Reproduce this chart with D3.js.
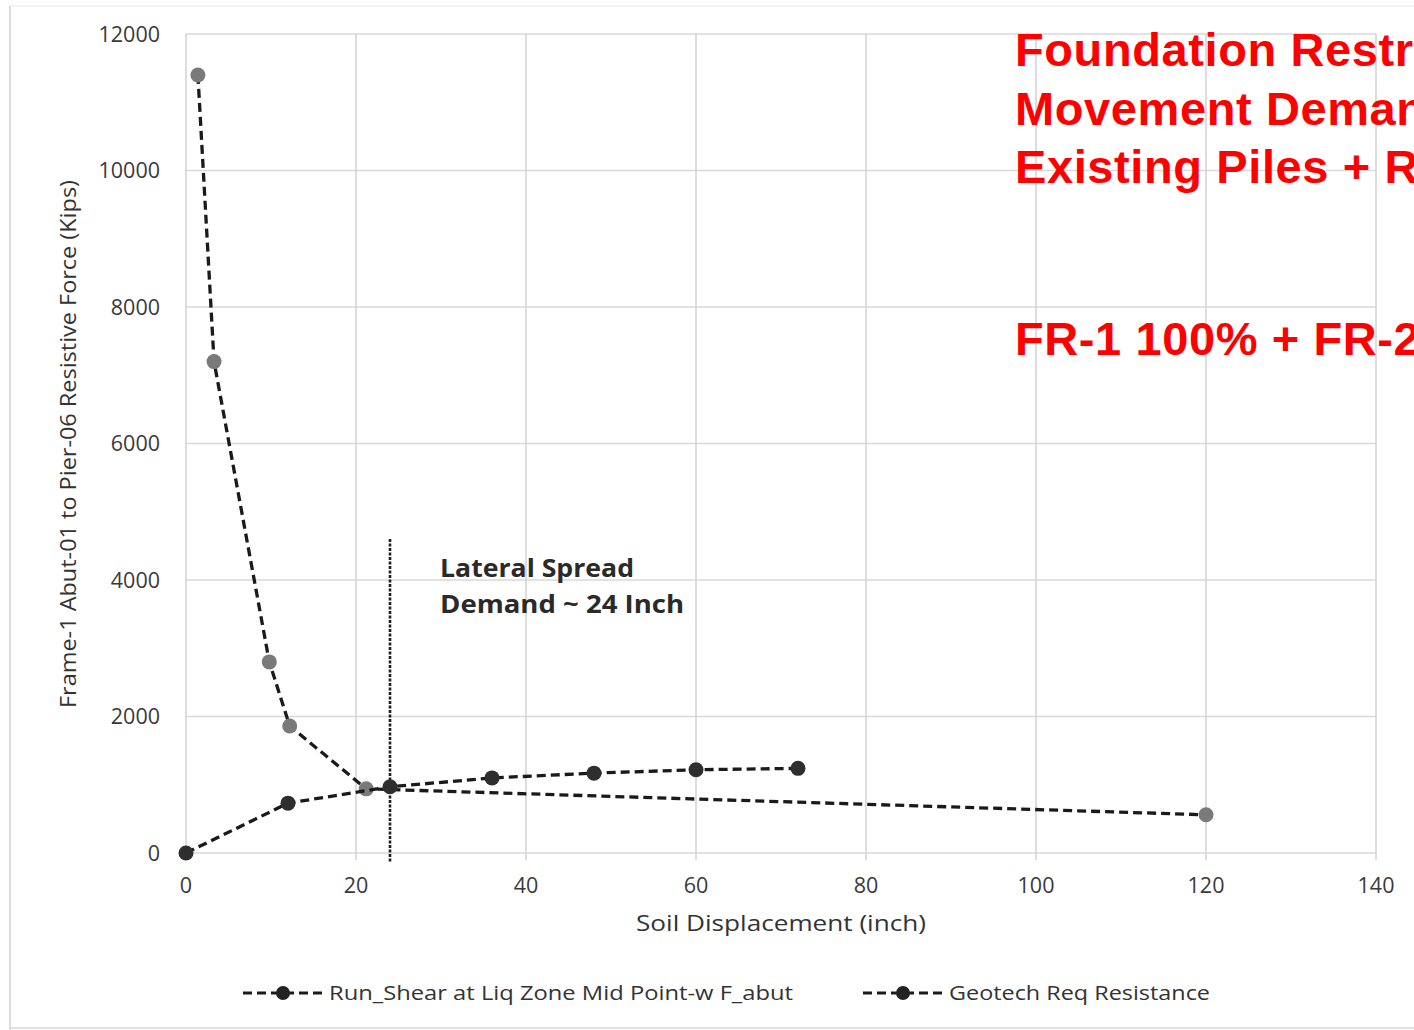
<!DOCTYPE html>
<html>
<head>
<meta charset="utf-8">
<script src="https://cdn.jsdelivr.net/npm/d3@7"></script>
<style>
  html, body { margin: 0; padding: 0; background: #fff; }
  svg { display: block; }
</style>
</head>
<body>
<svg id="chart" width="1414" height="1030"></svg>
<script>
// Soil displacement (inch) vs. resistive force (kips)
const runShearX = [0, 12, 24, 36, 48, 60, 72];
const runShearY = [0, 730, 970, 1100, 1170, 1220, 1240];

const geotechX = [1.4, 3.3, 9.8, 12.2, 21.2, 120];
const geotechY = [11400, 7200, 2800, 1860, 940, 560];

const xTicks = [0, 20, 40, 60, 80, 100, 120, 140];
const yTicks = [0, 2000, 4000, 6000, 8000, 10000, 12000];

const seriesNames = ["Run_Shear at Liq Zone Mid Point-w F_abut", "Geotech Req Resistance"];

// lateral spread demand marker line
const demandX = 24;
const demandSpan = [-130, 4600];

const noteLines = ["Lateral Spread", "Demand ~ 24 Inch"];
const titleLines = ["Foundation Restraint", "Movement Demand", "Existing Piles + Retrofit"];
const subtitle = "FR-1 100% + FR-2 100%";

const svg = d3.select("#chart");

const x = d3.scaleLinear().domain([0, 140]).range([186, 1376]);
const y = d3.scaleLinear().domain([0, 12000]).range([853, 34]);

// outer frame
svg.append("line").attr("x1", 10).attr("x2", 10).attr("y1", 6).attr("y2", 1030)
  .attr("stroke", "#cfcfcf").attr("stroke-width", 1.5);
svg.append("line").attr("x1", 10).attr("x2", 1414).attr("y1", 6).attr("y2", 6)
  .attr("stroke", "#e6e6e6").attr("stroke-width", 1.2);
svg.append("line").attr("x1", 10).attr("x2", 1414).attr("y1", 1028).attr("y2", 1028)
  .attr("stroke", "#d6d6d6").attr("stroke-width", 1.5);

// gridlines
const grid = svg.append("g");
grid.selectAll("line.h").data(yTicks).join("line")
  .attr("x1", x(0)).attr("x2", x(140))
  .attr("y1", d => y(d)).attr("y2", d => y(d))
  .attr("stroke", "#d9d9d9").attr("stroke-width", 1.5);
grid.selectAll("line.v").data(xTicks).join("line")
  .attr("x1", d => x(d)).attr("x2", d => x(d))
  .attr("y1", y(12000)).attr("y2", y(0) + 7)
  .attr("stroke", "#d2d2d2").attr("stroke-width", 1.5);

// tick labels
const tickFont = "'Open Sans', 'DejaVu Sans', sans-serif";
svg.append("g").selectAll("text").data(yTicks).join("text")
  .attr("x", 160).attr("y", d => y(d) + 7.5)
  .attr("text-anchor", "end")
  .attr("font-family", tickFont).attr("font-size", 21.5)
  .attr("fill", "#3a3a3a")
  .text(d => d);
svg.append("g").selectAll("text").data(xTicks).join("text")
  .attr("x", d => x(d)).attr("y", 893)
  .attr("text-anchor", "middle")
  .attr("font-family", tickFont).attr("font-size", 21.5)
  .attr("fill", "#3a3a3a")
  .text(d => d);

// axis titles
svg.append("text")
  .attr("x", 781).attr("y", 931)
  .attr("text-anchor", "middle")
  .attr("font-family", tickFont).attr("font-size", 22)
  .attr("fill", "#333")
  .attr("textLength", 290).attr("lengthAdjust", "spacingAndGlyphs")
  .text("Soil Displacement (inch)");
svg.append("text")
  .attr("transform", "translate(76,444) rotate(-90)")
  .attr("text-anchor", "middle")
  .attr("font-family", tickFont).attr("font-size", 22)
  .attr("fill", "#333")
  .attr("textLength", 528).attr("lengthAdjust", "spacingAndGlyphs")
  .text("Frame-1 Abut-01 to Pier-06 Resistive Force (Kips)");

// demand line at 24 inch
svg.append("line")
  .attr("x1", x(demandX)).attr("x2", x(demandX))
  .attr("y1", y(demandSpan[1])).attr("y2", y(demandSpan[0]))
  .attr("stroke", "#1e1e1e").attr("stroke-width", 2.6)
  .attr("stroke-dasharray", "3,1.5");

// annotation
svg.append("g").selectAll("text").data(noteLines).join("text")
  .attr("x", 440).attr("y", (d, i) => 577 + i * 36)
  .attr("font-family", "'Open Sans', sans-serif").attr("font-weight", "bold")
  .attr("font-size", 25).attr("fill", "#2a2a2a")
  .attr("textLength", (d, i) => i === 0 ? 194 : 244).attr("lengthAdjust", "spacingAndGlyphs")
  .text(d => d);

// series
const line = d3.line().x(d => x(d[0])).y(d => y(d[1]));
const runShear = runShearX.map((v, i) => [v, runShearY[i]]);
const geotech = geotechX.map((v, i) => [v, geotechY[i]]);

function drawSeries(data, markerFill) {
  svg.append("path").datum(data)
    .attr("d", line)
    .attr("fill", "none").attr("stroke", "#1a1a1a")
    .attr("stroke-width", 3.3).attr("stroke-dasharray", "9,5");
  svg.append("g").selectAll("circle").data(data).join("circle")
    .attr("cx", d => x(d[0])).attr("cy", d => y(d[1]))
    .attr("r", 7.5).attr("fill", markerFill);
}
drawSeries(geotech, "#7a7a7a");
drawSeries(runShear, "#2e2e2e");

// legend
const legendItems = [
  { name: seriesNames[0], x0: 243, tl: 464 },
  { name: seriesNames[1], x0: 863, tl: 261 }
];
const lg = svg.append("g");
legendItems.forEach(it => {
  lg.append("line")
    .attr("x1", it.x0).attr("x2", it.x0 + 80).attr("y1", 993).attr("y2", 993)
    .attr("stroke", "#1a1a1a").attr("stroke-width", 3).attr("stroke-dasharray", "9,5");
  lg.append("circle").attr("cx", it.x0 + 40).attr("cy", 993).attr("r", 7).attr("fill", "#222");
  lg.append("text")
    .attr("x", it.x0 + 86).attr("y", 1000)
    .attr("font-family", tickFont).attr("font-size", 20).attr("fill", "#333")
    .attr("textLength", it.tl).attr("lengthAdjust", "spacingAndGlyphs")
    .text(it.name);
});

// red heading (runs past the right edge of the page)
const red = svg.append("g")
  .attr("font-family", "'Liberation Sans', Arial, sans-serif")
  .attr("font-weight", "bold").attr("font-size", 47).attr("fill", "#ff0000")
  .attr("letter-spacing", 0.6);
red.selectAll("text").data(titleLines).join("text")
  .attr("x", 1015).attr("y", (d, i) => 66 + i * 58.5)
  .text(d => d);
red.append("text").attr("x", 1015).attr("y", 355).text(subtitle);
</script>
</body>
</html>
